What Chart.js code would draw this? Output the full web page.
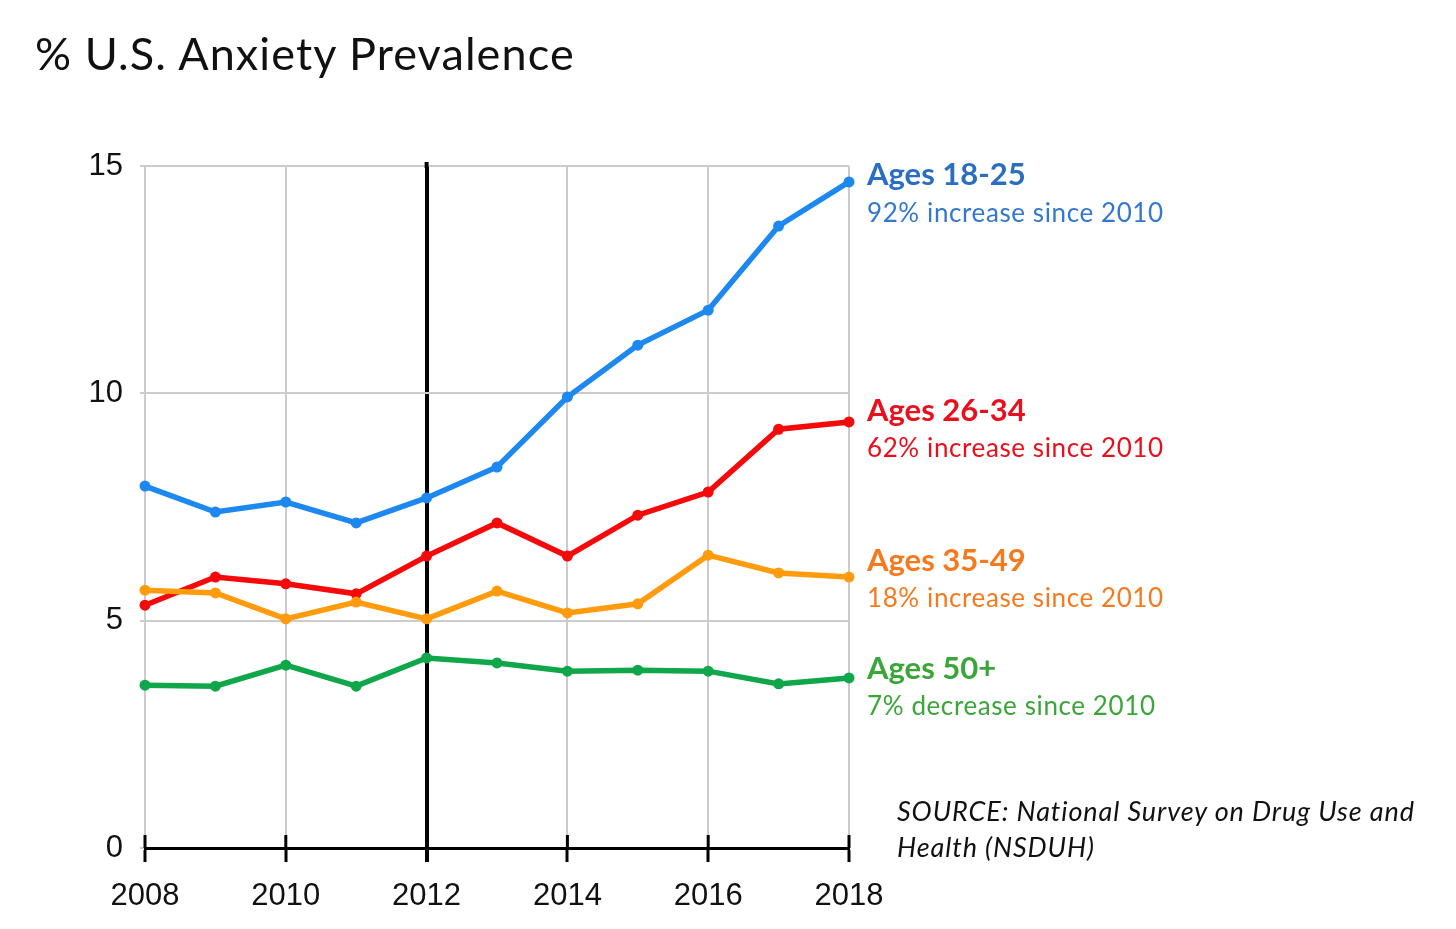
<!DOCTYPE html>
<html>
<head>
<meta charset="utf-8">
<script src="https://cdn.jsdelivr.net/npm/chart.js@4/dist/chart.umd.min.js"></script>
<style>
    html, body { margin: 0; padding: 0; background: #fff; }
    body { width: 1456px; height: 929px; position: relative; overflow: hidden; font-family: Lato, "Open Sans", sans-serif; }
    #chart { position: absolute; left: 0; top: 0; }
    .txt { position: absolute; white-space: nowrap; line-height: 1; }
    #title { left: 35px; top: 31px; font-size: 45px; letter-spacing: 1.1px; color: #111; }
    .head { font-weight: bold; font-size: 31px; }
    .sub { font-size: 26px; letter-spacing: 0.6px; }
    #source { left: 897px; top: 793px; font-size: 27px; font-style: italic; color: #111; line-height: 36px; letter-spacing: 0.9px; white-space: normal; width: 545px; }
</style>
</head>
<body>
<canvas id="chart" width="1456" height="929"></canvas>
<div id="title" class="txt">% U.S. Anxiety Prevalence</div>

<div class="txt head" style="left:867px; top:158px; color:#2a6ec2;">Ages 18-25</div>
<div class="txt sub" style="left:867px; top:199px; color:#3278cf;">92% increase since 2010</div>

<div class="txt head" style="left:867px; top:394px; color:#e8101c;">Ages 26-34</div>
<div class="txt sub" style="left:867px; top:434px; color:#e8101c;">62% increase since 2010</div>

<div class="txt head" style="left:867px; top:544px; color:#f57a1e;">Ages 35-49</div>
<div class="txt sub" style="left:867px; top:584px; color:#f57a1e;">18% increase since 2010</div>

<div class="txt head" style="left:867px; top:652px; color:#3aa63a;">Ages 50+</div>
<div class="txt sub" style="left:867px; top:692px; color:#3aa63a;">7% decrease since 2010</div>

<div id="source" class="txt">SOURCE: National Survey on Drug Use and Health (NSDUH)</div>

<script>
// Survey years and prevalence (%) per age group
const years = [2008, 2009, 2010, 2011, 2012, 2013, 2014, 2015, 2016, 2017, 2018];
const ages18to25 = [7.96, 7.39, 7.61, 7.15, 7.70, 8.38, 9.92, 11.06, 11.83, 13.68, 14.65];
const ages26to34 = [5.34, 5.96, 5.81, 5.59, 6.42, 7.15, 6.42, 7.32, 7.83, 9.21, 9.37];
const ages35to49 = [5.67, 5.61, 5.04, 5.41, 5.04, 5.65, 5.17, 5.37, 6.44, 6.05, 5.96];
const ages50plus = [3.58, 3.56, 4.02, 3.56, 4.18, 4.07, 3.89, 3.91, 3.89, 3.61, 3.74];

const yTicks = [0, 5, 10, 15];
const markerYear = 2012;

// Turn a series into {x, y} points for the linear x axis
function toPoints(values) {
    return values.map((v, i) => ({ x: years[i], y: v }));
}

function lineSet(label, values, color) {
    return {
        label: label,
        data: toPoints(values),
        borderColor: color,
        backgroundColor: color,
        pointBackgroundColor: color,
        pointBorderWidth: 0,
        pointRadius: 5.5,
        borderWidth: 5.5,
        tension: 0,
        clip: false
    };
}

// Black tick marks that stick up above the x axis line
const axisTicksUp = {
    id: 'axisTicksUp',
    afterDraw(chart) {
        const xScale = chart.scales.x;
        const ctx = chart.ctx;
        const bottom = chart.chartArea.bottom;
        ctx.save();
        ctx.strokeStyle = '#000';
        ctx.lineWidth = 3;
        xScale.ticks.forEach(t => {
            const px = xScale.getPixelForValue(t.value);
            ctx.beginPath();
            ctx.moveTo(px, bottom - 13);
            ctx.lineTo(px, bottom);
            ctx.stroke();
        });
        // the 2012 marker reaches a little above the plot
        const mx = xScale.getPixelForValue(markerYear);
        ctx.lineWidth = 4;
        ctx.beginPath();
        ctx.moveTo(mx, chart.chartArea.top - 4);
        ctx.lineTo(mx, chart.chartArea.top + 2);
        ctx.stroke();
        ctx.restore();
    }
};

const ctx = document.getElementById('chart').getContext('2d');
const anxietyChart = new Chart(ctx, {
    type: 'line',
    data: {
        datasets: [
            lineSet('Ages 50+', ages50plus, '#10a64a'),
            lineSet('Ages 35-49', ages35to49, '#ff9b0c'),
            lineSet('Ages 26-34', ages26to34, '#f40a0a'),
            lineSet('Ages 18-25', ages18to25, '#1c88f0')
        ]
    },
    options: {
        responsive: false,
        animation: false,
        devicePixelRatio: 1,
        layout: {
            padding: { left: 0, right: 607, top: 166, bottom: 0 }
        },
        plugins: {
            legend: { display: false },
            tooltip: { enabled: false }
        },
        scales: {
            x: {
                type: 'linear',
                min: years[0],
                max: years[years.length - 1],
                afterFit(scale) { scale.height = 81; },
                afterBuildTicks(scale) {
                    scale.ticks = years.filter(y => y % 2 === 0).map(y => ({ value: y }));
                },
                border: { display: true, color: '#000', width: 3 },
                grid: {
                    color: c => c.tick && c.tick.value === markerYear ? '#000' : '#cccccc',
                    lineWidth: c => c.tick && c.tick.value === markerYear ? 4 : 2,
                    tickColor: '#000',
                    tickWidth: c => c.tick && c.tick.value === markerYear ? 4 : 3,
                    tickLength: 14
                },
                ticks: {
                    color: '#111',
                    padding: 16,
                    maxRotation: 0,
                    font: { family: '"Liberation Sans", Arial, sans-serif', size: 31 },
                    callback: v => String(v)
                }
            },
            y: {
                min: 0,
                max: 15,
                afterFit(scale) { scale.width = 145; },
                afterBuildTicks(scale) {
                    scale.ticks = yTicks.map(v => ({ value: v }));
                },
                border: { display: false },
                grid: {
                    color: c => c.tick && c.tick.value === 0 ? 'rgba(0,0,0,0)' : '#cccccc',
                    lineWidth: 2,
                    tickColor: '#cccccc',
                    tickLength: 5
                },
                ticks: {
                    color: '#111',
                    padding: 17,
                    font: { family: '"Liberation Sans", Arial, sans-serif', size: 31 }
                }
            }
        }
    },
    plugins: [axisTicksUp]
});
</script>
</body>
</html>
